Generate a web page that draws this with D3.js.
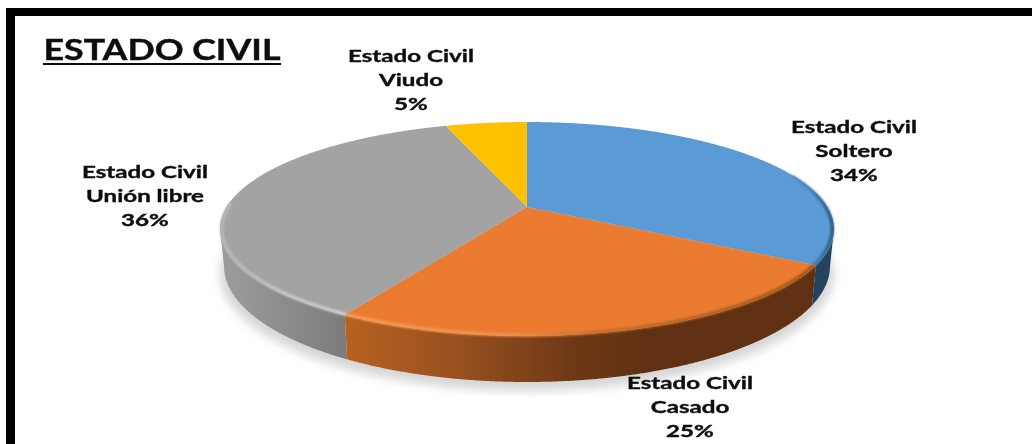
<!DOCTYPE html>
<html>
<head>
<meta charset="utf-8">
<script src="https://cdn.jsdelivr.net/npm/d3@7"></script>
<style>
  html, body { margin: 0; padding: 0; background: #fff; overflow: hidden; }
  text { font-family: Lato, "Open Sans", sans-serif; font-weight: 700; fill: #111; stroke: #111; stroke-width: 0.4; }
</style>
</head>
<body>
<div id="chart"></div>
<script>
// DATA
const titleText = "ESTADO CIVIL";
const seriesName = "Estado Civil";
const categories = ["Soltero", "Casado", "Unión libre", "Viudo"];
const shares = [33.5, 24.8, 36.45, 5.25];
const sliceColors = ["#5b9bd5", "#ea7b30", "#a3a3a3", "#ffc000"];

// CHART AREA
const width = 1032, height = 444;
const svg = d3.select("#chart").append("svg")
    .attr("width", width)
    .attr("height", height)
    .style("display", "block");
const defs = svg.append("defs");

// top face and bottom edge of the disc, both in unit coordinates
const x = d3.scaleLinear().domain([-1, 1]).range([220, 834]);
const y = d3.scaleLinear().domain([-1, 1]).range([122, 336]);
const xBase = d3.scaleLinear().domain([-1, 1]).range([224, 830]);
const yBase = d3.scaleLinear().domain([-1, 1]).range([150, 382]);

// tilt: pushes the pie centre up the ellipse, like the perspective in the original
const tilt = 0.206;
function project(r, a) {
    let u = r * Math.sin(a), v = -r * Math.cos(a);
    let d = 1 - tilt * v;
    return [Math.sqrt(1 - tilt * tilt) * u / d, (v - tilt) / d];
}
const onTop = p => [x(p[0]), y(p[1])];
const onBase = p => [xBase(p[0]), yBase(p[1])];
const line = d3.line();

function sweep(a0, a1) {
    return d3.range(a0, a1, 0.004).concat([a1]).map(a => project(1, a));
}

const slices = d3.pie().sort(null).value(d => d)(shares);

// FILTERS AND GRADIENTS
function blur(id, dev) {
    defs.append("filter").attr("id", id)
        .attr("x", "-10%").attr("y", "-30%").attr("width", "120%").attr("height", "160%")
        .append("feGaussianBlur").attr("stdDeviation", dev);
}
blur("soft", 5);
blur("rimBlur", 1.3);
blur("textBlur", 0.4);

function gradient(id, x1, x2, stops) {
    let g = defs.append("linearGradient").attr("id", id)
        .attr("gradientUnits", "userSpaceOnUse")
        .attr("x1", x1).attr("x2", x2).attr("y1", 0).attr("y2", 0);
    stops.forEach(s => g.append("stop").attr("offset", s[0]).attr("stop-color", s[1]));
}
gradient("wall0", 780, 834, [[0, "#24435e"], [1, "#24435e"]]);
gradient("wall1", 347, 650, [[0, "#b6611f"], [0.35, "#99511f"], [0.75, "#6e3815"], [1, "#5f3112"]]);
gradient("wall2", 224, 347, [[0, "#9c9c9c"], [0.5, "#8c8c8c"], [1, "#7b7b7b"]]);
gradient("rim0", 770, 834, [[0, "#5b9bd5"], [0.6, "#4d85b8"], [1, "#2f5577"]]);
gradient("rim1", 347, 808, [[0, "#f59a55"], [0.35, "#ef9150"], [0.55, "#c56d2d"], [1, "#a0561f"]]);
gradient("rim2", 220, 347, [[0, "#b5b5b5"], [0.5, "#c6c6c6"], [1, "#cdcdcd"]]);

// SHADOW
svg.append("ellipse")
    .attr("cx", xBase(0)).attr("cy", yBase(0) + 8)
    .attr("rx", (xBase(1) - xBase(-1)) / 2 + 4)
    .attr("ry", (yBase(1) - yBase(-1)) / 2 + 1)
    .attr("fill", "#d6d6d6")
    .attr("filter", "url(#soft)");

// WALLS
svg.selectAll(".wall")
    .data(slices)
    .enter()
    .append("path")
    .attr("class", "wall")
    .attr("fill", (d, i) => "url(#wall" + i + ")")
    .attr("d", d => {
        let pts = sweep(d.startAngle, d.endAngle).filter(p => p[1] >= 0);
        if (pts.length < 2) return null;
        return line(pts.map(onTop).concat(pts.map(onBase).reverse())) + "Z";
    });

// TOP FACE
svg.selectAll(".slice")
    .data(slices)
    .enter()
    .append("path")
    .attr("class", "slice")
    .attr("fill", (d, i) => sliceColors[i])
    .attr("d", d => line([onTop(project(0, 0))].concat(sweep(d.startAngle, d.endAngle).map(onTop))) + "Z");

// BEVEL ALONG THE RIM
const rimFrom = [-0.5, 0, -0.25];
svg.selectAll(".rim")
    .data(slices.slice(0, 3))
    .enter()
    .append("path")
    .attr("class", "rim")
    .attr("fill", "none")
    .attr("stroke", (d, i) => "url(#rim" + i + ")")
    .attr("stroke-width", 3.5)
    .attr("filter", "url(#rimBlur)")
    .attr("d", (d, i) => line(sweep(d.startAngle, d.endAngle)
        .filter(p => p[1] >= rimFrom[i] && (i != 0 || p[0] > 0.6))
        .map(p => onTop([p[0] * 0.994, p[1] * 0.99]))));

// FRAME
const frame = svg.append("g");
frame.append("rect").attr("x", 6).attr("y", 8).attr("width", width - 6).attr("height", 8).attr("fill", "#000");
frame.append("rect").attr("x", 6).attr("y", 8).attr("width", 9).attr("height", height - 8).attr("fill", "#000");

// fit a text to a measured width by stretching it, the original is stretched too
function stretched(parent, str, cx, baseline, size, factor) {
    let t = parent.append("text")
        .attr("text-anchor", "middle")
        .attr("font-size", size)
        .text(str);
    t.attr("transform", "translate(" + cx + "," + baseline + ") scale(" + factor + ",1)");
    return t;
}

// TITLE
const titleG = svg.append("g").attr("filter", "url(#textBlur)");
const probe = titleG.append("text").attr("font-size", 28).text(titleText);
const titleW = probe.node().getComputedTextLength();
probe.remove();
stretched(titleG, titleText, 162, 60, 28, 237 / titleW);
titleG.append("rect").attr("x", 43).attr("y", 63).attr("width", 238).attr("height", 2).attr("fill", "#111");

// DATA LABELS
const labelCenters = [854, 690, 145, 411];
const labelBaselines = [133, 389, 178, 62];
const labelStep = 24;

const labelG = svg.append("g").attr("filter", "url(#textBlur)");
const probe2 = labelG.append("text").attr("font-size", 17.5).text(seriesName);
const labelW = probe2.node().getComputedTextLength();
probe2.remove();
const labelFactor = 126 / labelW;

categories.forEach((c, i) => {
    let lines = [seriesName, c, Math.round(shares[i]) + "%"];
    lines.forEach((s, j) => {
        stretched(labelG, s, labelCenters[i], labelBaselines[i] + j * labelStep, 17.5, labelFactor);
    });
});
</script>
</body>
</html>
